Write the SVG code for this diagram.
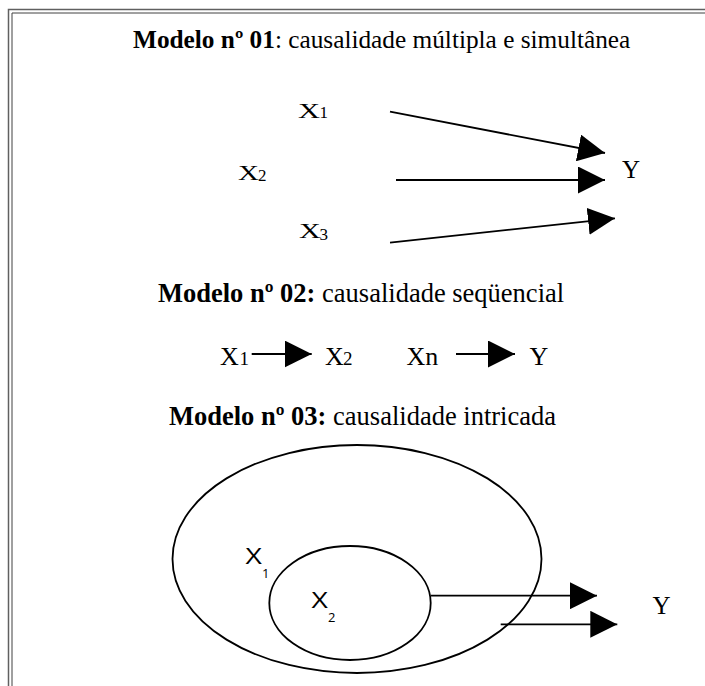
<svg xmlns="http://www.w3.org/2000/svg" width="705" height="686" viewBox="0 0 705 686">
<style>
.serif{font-family:'Liberation Serif','Times New Roman',serif;fill:#000}
.sans{font-family:'Open Sans','Liberation Sans',sans-serif;fill:#000}
.b{font-weight:bold}
.conn{stroke:#000;stroke-width:1.8;fill:none;marker-end:url(#ah)}
.shape{stroke:#000;stroke-width:1.8;fill:none}
</style>
<defs>
<marker id="ah" markerUnits="userSpaceOnUse" viewBox="0 0 27 27" refX="27" refY="13.5" markerWidth="27" markerHeight="27" orient="auto">
<path d="M0,0 L27,13.5 L0,27 z" fill="#000"/>
</marker>
</defs>
<rect width="705" height="686" fill="#fff"/>
<g id="frame">
<path d="M8.5,686 V9.5 H705" fill="none" stroke="#606060" stroke-width="1.5"/>
<path d="M12,686 V13 H705" fill="none" stroke="#404040" stroke-width="1"/>
</g>
<g id="titles">
<text id="title1" class="serif" font-size="25.3" x="133" y="48"><tspan class="b">Modelo nº 01</tspan>: causalidade múltipla e simultânea</text>
<text id="title2" class="serif" font-size="26.5" x="158" y="302"><tspan class="b">Modelo nº 02:</tspan> causalidade seqüencial</text>
<text id="title3" class="serif" font-size="26.5" x="169" y="425"><tspan class="b">Modelo nº 03:</tspan> causalidade intricada</text>
</g>
<g id="m1-x1"><text class="serif" font-size="21.5" transform="translate(298,117.5) scale(1.42,1)">X</text><text class="serif" x="319.5" y="117.5" font-size="17">1</text></g>
<g id="m1-x2"><text class="serif" font-size="21.5" transform="translate(238,180) scale(1.35,1)">X</text><text class="serif" x="258" y="180.5" font-size="17">2</text></g>
<g id="m1-x3"><text class="serif" font-size="21.5" transform="translate(299,238) scale(1.4,1)">X</text><text class="serif" x="319.5" y="239.5" font-size="17">3</text></g>
<g id="m1-y"><text class="serif" x="622" y="178" font-size="25">Y</text></g>
<g id="m2-x1"><text class="serif" x="220" y="365" font-size="26">X</text><text class="serif" x="239.5" y="365" font-size="19">1</text></g>
<g id="m2-x2"><text class="serif" x="325" y="365" font-size="26">X</text><text class="serif" x="343" y="365" font-size="19">2</text></g>
<g id="m2-xn"><text class="serif" x="406.5" y="365" font-size="26">Xn</text></g>
<g id="m2-y"><text class="serif" x="529.5" y="365" font-size="26">Y</text></g>
<g id="m3-x1">
<ellipse class="shape" cx="357" cy="559" rx="184.5" ry="114"/>
<text class="sans" font-size="21" transform="translate(245.5,564) scale(1.35,1)">X</text><text class="sans" x="262" y="577.5" font-size="13">1</text>
</g>
<g id="m3-x2">
<ellipse class="shape" cx="350" cy="603" rx="80.7" ry="57"/>
<text class="sans" font-size="21" transform="translate(311.5,608) scale(1.35,1)">X</text><text class="sans" x="328" y="621.5" font-size="13">2</text>
</g>
<g id="m3-y"><text class="serif" x="652.5" y="613.5" font-size="25">Y</text></g>
<g id="connectors">
<line class="conn" x1="390" y1="111.7" x2="605" y2="153"/>
<line class="conn" x1="396" y1="180" x2="605" y2="180"/>
<line class="conn" x1="390" y1="242.7" x2="615" y2="218.3"/>
<line class="conn" x1="251.7" y1="354" x2="311.7" y2="354"/>
<line class="conn" x1="456" y1="354" x2="515" y2="354"/>
<line class="conn" x1="430.7" y1="595.7" x2="597" y2="595.7"/>
<line class="conn" x1="500.7" y1="624.3" x2="617.3" y2="624.3"/>
</g>
</svg>
